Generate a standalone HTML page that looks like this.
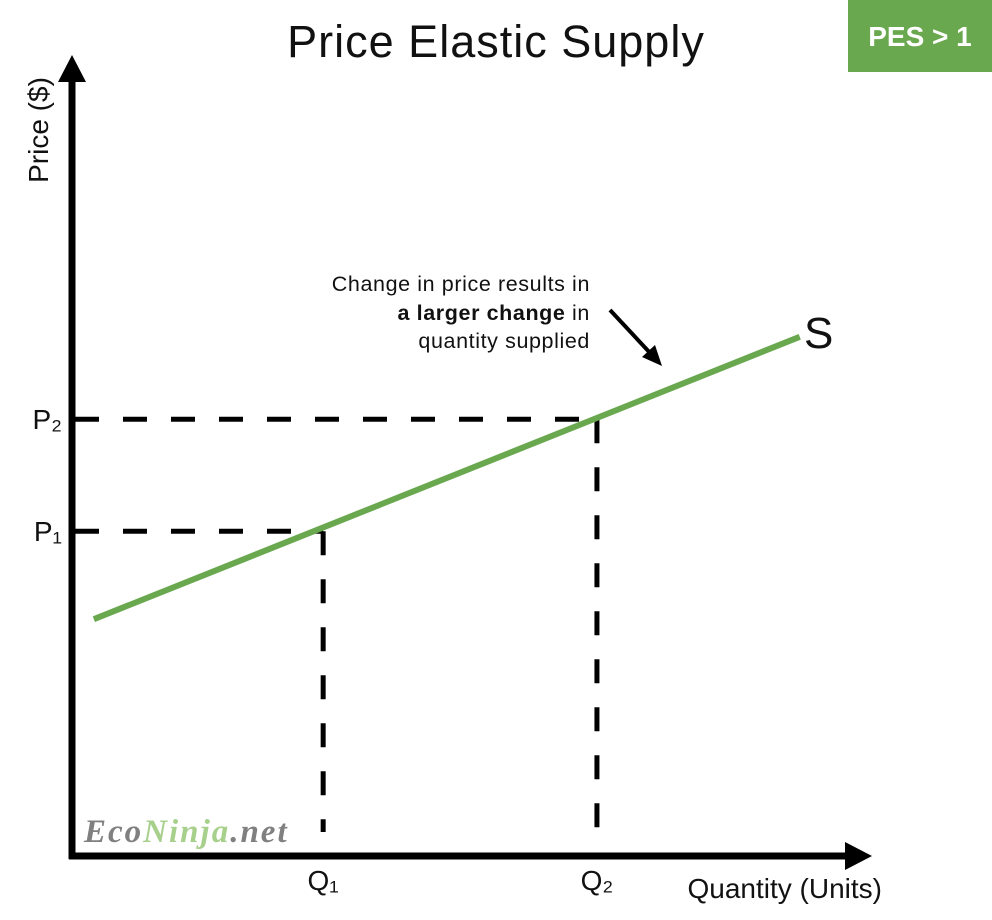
<!DOCTYPE html>
<html><head><meta charset="utf-8"><style>
html,body{margin:0;padding:0;background:#fff;}
svg{display:block;font-family:"Liberation Sans",sans-serif;}
</style></head><body>
<svg id="chart" width="992" height="920" viewBox="0 0 992 920">
<text x="496" y="57" font-size="45" text-anchor="middle" fill="#111" letter-spacing="1">Price Elastic Supply</text>
<g>
<rect x="848" y="0" width="144" height="72" fill="#6aa84f"/>
<text x="920" y="46" font-size="28" font-weight="bold" fill="#fff" text-anchor="middle">PES &gt; 1</text>
</g>
<g id="axes">
<line x1="72" y1="859" x2="72" y2="78" stroke="#000" stroke-width="7"/>
<polygon points="72,55 58,82 86,82" fill="#000"/>
<line x1="69" y1="856" x2="848" y2="856" stroke="#000" stroke-width="7"/>
<polygon points="872,856 845,842 845,870" fill="#000"/>
</g>
<text transform="translate(48,130) rotate(-90)" font-size="28" text-anchor="middle" fill="#111">Price ($)</text>
<text x="882" y="898" font-size="28" text-anchor="end" fill="#111">Quantity (Units)</text>
<g id="marks"></g>
<g font-size="21.5" fill="#111" text-anchor="end" letter-spacing="0.6">
<text x="590" y="291">Change in price results in</text>
<text x="590" y="320"><tspan font-weight="bold">a larger change</tspan> in</text>
<text x="590" y="348">quantity supplied</text>
</g>
<line x1="610" y1="310" x2="652" y2="355" stroke="#000" stroke-width="4"/>
<polygon points="662,366 642,357 655,345" fill="#000"/>
<text x="804" y="348" font-size="44" fill="#111">S</text>
<text x="84" y="842" font-size="33" font-weight="bold" font-style="italic" font-family="Liberation Serif,serif" letter-spacing="2"><tspan fill="#808080">Eco</tspan><tspan fill="#a8d08d">Ninja</tspan><tspan fill="#808080">.net</tspan></text>
</svg>
<script>
const qTicks = ["Q\u2081","Q\u2082"];
const pTicks = ["P\u2081","P\u2082"];
const qValues = [32.2, 67.3];
const pValues = [40.6, 54.6];
const supplyQ = [2.8, 93.3];
const supplyP = [29.6, 64.9];
const xS = q => 72 + q * 7.8;
const yS = p => 856 - p * 8;
const NS = "http://www.w3.org/2000/svg";
const g = document.getElementById('marks');
function mk(tag, attrs){const e=document.createElementNS(NS,tag);for(const k in attrs)e.setAttribute(k,attrs[k]);g.appendChild(e);return e;}
for (let i = 0; i < qValues.length; i++) {
  const x = xS(qValues[i]), y = yS(pValues[i]);
  const h = mk('line',{x1:75,y1:y,x2:x,y2:y,stroke:'#000','stroke-width':5,'stroke-dasharray':'24 24'});
  
  
  const v = mk('line',{x1:x,y1:y,x2:x,y2:832,stroke:'#000','stroke-width':5,'stroke-dasharray':'24 24'});
  
  
  const pl = mk('text',{x:62,y:y+10,'font-size':28,'text-anchor':'end',fill:'#111'});
  pl.textContent = pTicks[i];
  
  
  const ql = mk('text',{x:x,y:890,'font-size':28,'text-anchor':'middle',fill:'#111'});
  ql.textContent = qTicks[i];
  
  
}
const s = mk('line',{x1:xS(supplyQ[0]),y1:yS(supplyP[0]),x2:xS(supplyQ[1]),y2:yS(supplyP[1]),stroke:'#6aa84f','stroke-width':6});


</script>
</body></html>
